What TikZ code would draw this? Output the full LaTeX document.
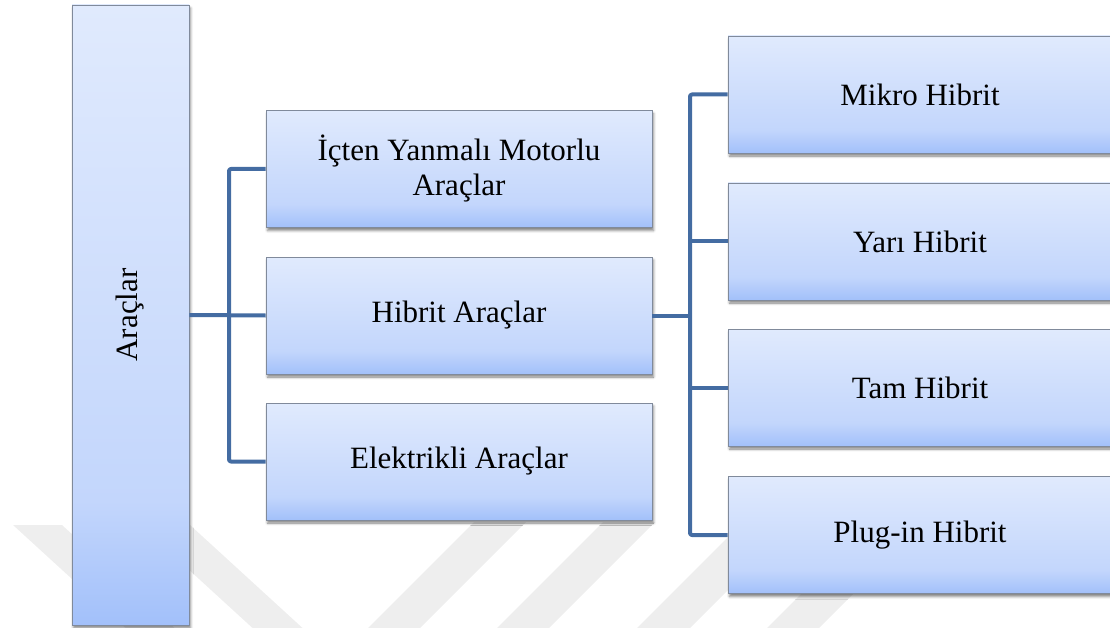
\documentclass[tikz,border=0pt]{standalone}
\usepackage{fontspec}
\setmainfont{Liberation Serif}
\usetikzlibrary{shadows.blur}

\definecolor{boxtop}{RGB}{224,234,253}
\definecolor{boxmid}{RGB}{195,214,252}
\definecolor{boxbot}{RGB}{162,192,250}
\definecolor{boxline}{RGB}{128,138,155}
\definecolor{connblue}{RGB}{68,108,162}
\definecolor{markgray}{RGB}{238,238,238}

% vertical fill: the path maps onto 25bp..75bp of the shading
\pgfdeclareverticalshading{boxshade}{100bp}{%
  color(0bp)=(boxbot); color(25bp)=(boxbot); color(35bp)=(boxmid);
  color(75bp)=(boxtop); color(100bp)=(boxtop)}

\tikzset{
  boxnode/.style={draw=boxline, line width=0.8pt, shade, shading=boxshade,
    inner sep=0pt, align=center, font=\fontsize{31}{35}\selectfont,
    blur shadow={shadow xshift=1.5pt, shadow yshift=-3pt,
      shadow blur radius=2.5pt, shadow opacity=50}},
  midbox/.style={boxnode, minimum width=386pt, minimum height=117pt},
  rightbox/.style={boxnode, minimum width=384pt, minimum height=117pt},
  conn/.style={draw=connblue, line width=4pt, line join=round, rounded corners=2pt},
  band/.style={fill=markgray, draw=none}
}

\begin{document}
\begin{tikzpicture}[x=1pt, y=-1pt]
  \useasboundingbox (0,0) rectangle (1110,628);
  \clip (0,0) rectangle (1110,628);

  % faint background stripes along the lower edge
  \fill[band] (13,525) -- (62,525) -- (180,633) -- (131,633) -- cycle;
  \fill[band] (140,525) -- (190,525) -- (308,633) -- (258,633) -- cycle;
  \fill[band] (474,522) -- (526,522) -- (415,633) -- (363,633) -- cycle;
  \fill[band] (603,522) -- (655,522) -- (544,633) -- (492,633) -- cycle;
  \fill[band] (743,522) -- (796,522) -- (685,633) -- (632,633) -- cycle;
  \fill[band] (873,522) -- (925,522) -- (814,633) -- (762,633) -- cycle;

  % boxes
  \node[boxnode, minimum width=117pt, minimum height=620pt] (araclar) at (130.5,315)
    {\rotatebox{90}{Araçlar}};

  \node[midbox] (icten)  at (459,169)   {İçten Yanmalı Motorlu\\Araçlar};
  \node[midbox] (hibrit) at (459,315.5) {Hibrit Araçlar};
  \node[midbox] (elek)   at (459,461.5) {Elektrikli Araçlar};

  \node[rightbox] (mikro) at (920,94.5)  {Mikro Hibrit};
  \node[rightbox] (yari)  at (920,241.5) {Yarı Hibrit};
  \node[rightbox] (tam)   at (920,387.5) {Tam Hibrit};
  \node[rightbox] (plug)  at (920,535)   {Plug-in Hibrit};

  % trunks of the two brackets
  \coordinate (ltrunk) at (229,0);
  \coordinate (rtrunk) at (690,0);

  % left bracket
  \draw[conn] (araclar.east) -- (hibrit.west);
  \draw[conn] (icten.west) -- (icten.west -| ltrunk) |- (elek.west);

  % right bracket
  \draw[conn] (hibrit.east) -- (hibrit.east -| rtrunk);
  \draw[conn] (mikro.west) -- (mikro.west -| rtrunk) |- (plug.west);
  \draw[conn] (yari.west -| rtrunk) -- (yari.west);
  \draw[conn] (tam.west -| rtrunk) -- (tam.west);
\end{tikzpicture}
\end{document}
